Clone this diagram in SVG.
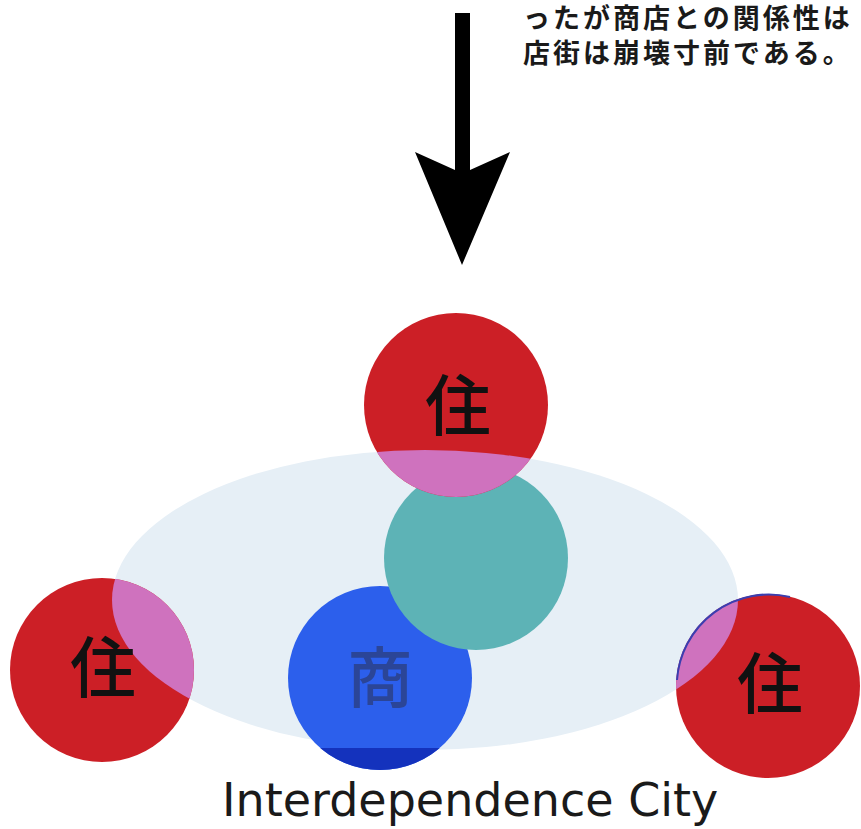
<svg xmlns="http://www.w3.org/2000/svg" width="861" height="829" viewBox="0 0 861 829">
<style>
.red{fill:#cc1f26}
.pink{fill:#cf72be}
.ju{font-family:"Noto Sans CJK JP","Noto Sans CJK SC",sans-serif;font-size:66px;fill:#111;text-anchor:middle;font-weight:500}
.cap{font-family:"Noto Sans CJK JP","Noto Sans CJK SC",sans-serif;font-size:27px;font-weight:700;fill:#1a1a1a;letter-spacing:3px}
.title{font-family:"DejaVu Sans",sans-serif;font-size:46px;fill:#1a1a1a}
</style>
<defs>
<clipPath id="ell"><ellipse cx="425" cy="600" rx="313" ry="150"/></clipPath>
<clipPath id="blueBottom"><rect x="280" y="748" width="200" height="30"/></clipPath>
</defs>
<rect width="861" height="829" fill="#ffffff"/>
<text class="cap" x="523" y="28">ったが商店との関係性は</text>
<text class="cap" x="523" y="63">店街は崩壊寸前である。</text>
<g id="city">
<ellipse cx="425" cy="600" rx="313" ry="150" fill="#e6eff6"/>
</g>
<g id="shop">
<circle cx="380" cy="678" r="92" fill="#2c5fec"/>
<circle cx="380" cy="678" r="92" fill="#1432bd" clip-path="url(#blueBottom)"/>
<text x="380" y="702" class="ju" style="fill:#2b4597">商</text>
</g>
<g id="hub">
<circle cx="476" cy="558" r="92" fill="#5db3b6"/>
</g>
<g id="home-top">
<circle class="red" cx="456" cy="405" r="92"/>
<circle class="pink" cx="456" cy="405" r="92" clip-path="url(#ell)"/>
<text x="458" y="430" class="ju">住</text>
</g>
<g id="home-left">
<circle class="red" cx="102" cy="670" r="92"/>
<circle class="pink" cx="102" cy="670" r="92" clip-path="url(#ell)"/>
<text x="103" y="692" class="ju">住</text>
</g>
<g id="home-right">
<circle class="red" cx="768" cy="686" r="92"/>
<circle class="pink" cx="768" cy="686" r="92" clip-path="url(#ell)"/>
<path d="M677,680 A92,92 0 0 1 790,597" fill="none" stroke="#3a3fb0" stroke-width="2"/>
<text x="770" y="708" class="ju">住</text>
</g>
<g id="connectors">
<path d="M455,13 L470,13 L470,170 L510,152 L462,265 L415,152 L455,170 Z" fill="#000"/>
</g>
<text class="title" x="222" y="816">Interdependence City</text>
</svg>
